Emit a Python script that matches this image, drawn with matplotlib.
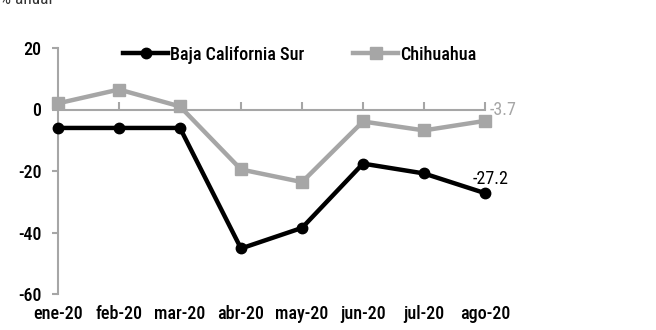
import matplotlib
matplotlib.use("Agg")
import matplotlib.pyplot as plt
from matplotlib import font_manager

meses = ["ene-20", "feb-20", "mar-20", "abr-20", "may-20", "jun-20", "jul-20", "ago-20"]
bcs = [-6.0, -6.0, -6.0, -45.2, -38.5, -17.6, -20.8, -27.2]
chihuahua = [2.0, 6.5, 1.0, -19.5, -23.6, -3.9, -6.8, -3.7]
y_ticks = [20, 0, -20, -40, -60]

names = {f.name for f in font_manager.fontManager.ttflist}
fam = next((f for f in ["Roboto Condensed", "Archivo Narrow", "PT Sans Narrow"] if f in names), "DejaVu Sans")
plt.rcParams["font.family"] = [fam, "DejaVu Sans"]

gris = "#A6A6A6"
fs = 13
fig = plt.figure(figsize=(6.56, 3.3), dpi=100)
ax = fig.add_axes([58 / 656, 36 / 330, (485 - 58) / 656, (294 - 48) / 330])

x = list(range(len(meses)))
ax.plot(x, chihuahua, color=gris, lw=3.2, marker="s", ms=8, label="Chihuahua", zorder=3, clip_on=False)
ax.plot(x, bcs, color="black", lw=3.2, marker="o", ms=7.5, label="Baja California Sur", zorder=4, clip_on=False)

ax.set_xlim(0, len(meses) - 1)
ax.set_ylim(-60, 20)
ax.set_yticks(y_ticks)
ax.set_yticklabels([str(v) for v in y_ticks], fontsize=fs, fontweight="medium")

for s in ["top", "right"]:
    ax.spines[s].set_visible(False)
ax.spines["left"].set_color(gris)
ax.spines["left"].set_linewidth(1.5)
ax.spines["bottom"].set_position(("data", 0))
ax.spines["bottom"].set_color(gris)
ax.spines["bottom"].set_linewidth(1.5)
ax.tick_params(axis="y", colors=gris, labelcolor="black", length=4, width=1.5, pad=8)
ax.set_xticks(x)
ax.tick_params(axis="x", direction="in", length=6, width=1.5, colors=gris, labelbottom=False)

for i, m in enumerate(meses):
    ax.annotate(m, (i, -60), xytext=(0, -8), textcoords="offset points",
                ha="center", va="top", fontsize=fs, fontweight="medium", annotation_clip=False)

ax.annotate(f"{chihuahua[-1]}", (x[-1], chihuahua[-1]), xytext=(3, 8), textcoords="offset points",
            ha="left", va="center", fontsize=fs, color=gris, annotation_clip=False)
ax.annotate(f"{bcs[-1]}", (x[-1], bcs[-1]), xytext=(4, 10), textcoords="offset points",
            ha="center", va="center", fontsize=fs, color="black", annotation_clip=False)

h, l = ax.get_legend_handles_labels()
ax.legend(h[::-1], l[::-1], loc="upper left", bbox_to_anchor=(0.115, 1.075), ncol=2, frameon=False,
          prop={"size": fs, "weight": "medium"}, handlelength=2.5, handletextpad=0.1, columnspacing=2.7)

fig.text(0.0, 1.0, "% anual", ha="left", va="center", fontsize=12.5, color="#333333")

fig.savefig("out.png", dpi=100)
